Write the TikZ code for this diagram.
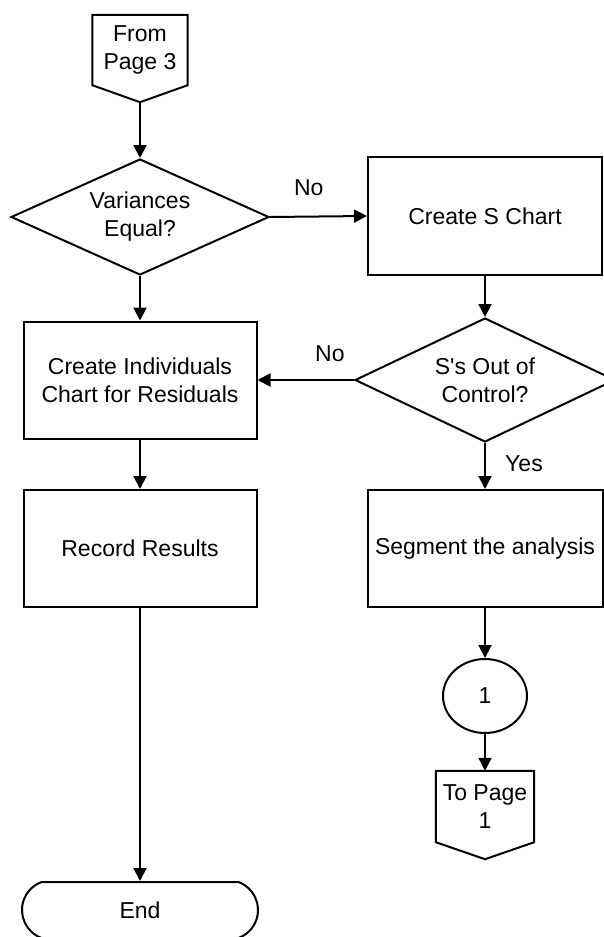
\documentclass[tikz,border=0pt]{standalone}
\usepackage{fontspec}
\setmainfont{Liberation Sans}[Ligatures=TeXOff]
\usetikzlibrary{arrows.meta,shapes.geometric,shapes.misc,calc}

\begin{document}
\begin{tikzpicture}[x=1pt,y=-1pt,
  every node/.style={font=\fontsize{23}{28}\selectfont},
  flow/.style={line width=2pt, draw=black, line join=miter},
  process/.style={flow, rectangle, inner sep=0pt, align=center,
                  minimum width=233pt, minimum height=117pt},
  decision/.style={flow, diamond, inner sep=0pt},
  pagebody/.style={rectangle, inner sep=0pt, align=center},
  arr/.style={line width=2pt, -{Triangle[length=13pt,width=13pt]}},
  lbl/.style={inner sep=0pt}
]
\useasboundingbox (0,0) rectangle (604,937);
\clip (0,0) rectangle (604,937);

% off-page connector at the top
\node[pagebody, minimum width=95pt, minimum height=70pt] (from) at (140,50) {From\\Page 3};
\coordinate (fromtip) at ($(from.south)+(0,17)$);
\draw[flow] (from.north west) -- (from.north east) -- (from.south east)
  -- (fromtip) -- (from.south west) -- cycle;

% decisions
\node[decision, minimum width=258pt, minimum height=116pt] (vareq) at (140,217) {};
\node[align=center, lbl] (vareqtext) at (vareq.center) {Variances\\Equal?};
\node[decision, minimum width=260pt, minimum height=124pt] (sout) at (485,380) {};
\node[align=center, lbl] (souttext) at (sout.center) {S's Out of\\Control?};

% process boxes
\node[process, minimum width=234pt, minimum height=118pt] (schart) at (485,216) {Create S Chart};
\node[process] (indiv) at (140,380) {Create Individuals\\Chart for Residuals};
\node[process] (record) at (140,548.5) {Record Results};
\node[process, minimum width=235pt] (segment) at (485,548.5) {Segment the analysis};

% connector circle and off-page connector
\node[flow, ellipse, inner sep=0pt, minimum width=84pt, minimum height=74pt] (conn) at (485,696) {1};
\node[pagebody, minimum width=98pt, minimum height=71pt] (topage) at (485,806.5) {To Page\\1};
\coordinate (topagetip) at ($(topage.south)+(0,17)$);
\draw[flow] (topage.north west) -- (topage.north east) -- (topage.south east)
  -- (topagetip) -- (topage.south west) -- cycle;

% terminator
\node[flow, rounded rectangle, rounded rectangle arc length=140, inner sep=0pt,
      minimum width=236pt, minimum height=56pt] (finish) at (140,910) {End};

% connectors
\draw[arr] (fromtip) -- (vareq.north);
\draw[arr] (vareq.east) -- node[lbl, pos=0.4, yshift=29pt] {No} (schart.west);
\draw[arr] (vareq.south) -- (indiv.north);
\draw[arr] (schart.south) -- (sout.north);
\draw[arr] (sout.west) -- node[lbl, pos=0.25, yshift=26pt] {No} (indiv.east);
\draw[arr] (sout.south) -- node[lbl, pos=0.44, xshift=39pt] {Yes} (segment.north);
\draw[arr] (indiv.south) -- (record.north);
\draw[arr] (record.south) -- (finish.north);
\draw[arr] (segment.south) -- (conn.north);
\draw[arr] (conn.south) -- (topage.north);
\end{tikzpicture}
\end{document}
